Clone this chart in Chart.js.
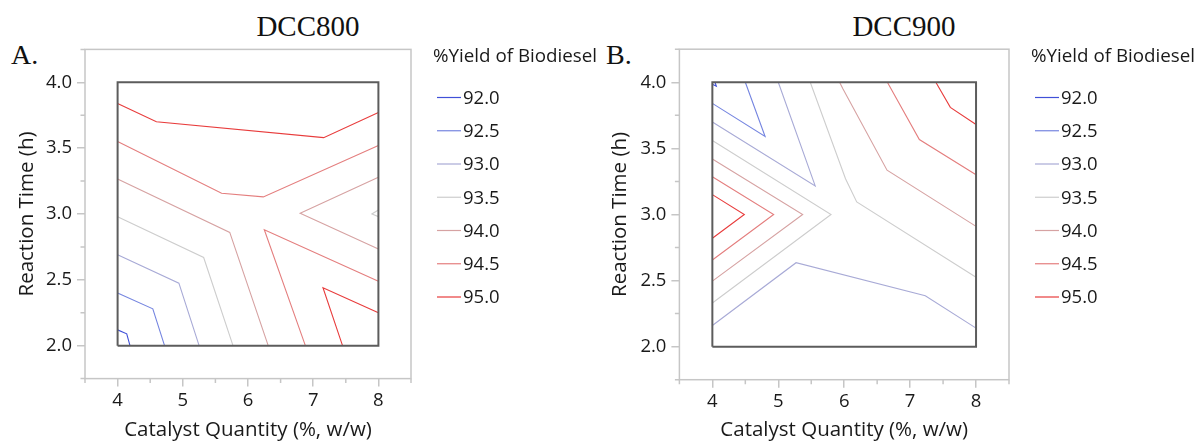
<!DOCTYPE html>
<html>
<head>
<meta charset="utf-8">
<script src="https://cdn.jsdelivr.net/npm/chart.js@4.4.1/dist/chart.umd.min.js"></script>
<style>
  html, body { margin: 0; padding: 0; background: #fff; }
  #wrap { position: relative; width: 1203px; height: 442px; overflow: hidden; }
  canvas { position: absolute; top: 0; }
  .ptitle, .tag { position: absolute; font-family: "Liberation Serif", serif; color: #111; line-height: 1; white-space: nowrap; }
  .ptitle { font-size: 29px; transform: translateX(-50%); }
  .tag { font-size: 28px; }
</style>
</head>
<body>
<div id="wrap">
  <div class="ptitle" style="left:308px;top:12px;">DCC800</div>
  <div class="tag" style="left:11px;top:41px;">A.</div>
  <div class="ptitle" style="left:904px;top:12px;">DCC900</div>
  <div class="tag" style="left:606px;top:41px;">B.</div>
  <canvas id="chartA" width="600" height="442" style="left:0"></canvas>
  <canvas id="chartB" width="603" height="442" style="left:600px"></canvas>
</div>
<script>
// niveaux des contours et couleurs
const levels = ['92.0', '92.5', '93.0', '93.5', '94.0', '94.5', '95.0'];
const levelColors = ['#4050d8', '#7585e0', '#a8aad6', '#cdcdcd', '#d6a2a2', '#e47e7e', '#e83c3c'];

const xMajor = [4, 5, 6, 7, 8];
const xMinor = [3.5, 4.5, 5.5, 6.5, 7.5, 8.5];
const yMajor = [2.0, 2.5, 3.0, 3.5, 4.0];
const yMinor = [1.75, 2.25, 2.75, 3.25, 3.75, 4.25];

// région expérimentale (cadre noir)
const designBox = [[4, 2], [8, 2], [8, 4], [4, 4], [4, 2]];

// DCC800 - segments de contour [x, y]
const a920 = [[[4.0, 2.12], [4.14, 2.09], [4.19, 2.0]]];
const a925 = [[[4.0, 2.40], [4.54, 2.28], [4.72, 2.0]]];
const a930 = [[[4.0, 2.69], [4.94, 2.475], [5.25, 2.0]]];
const a935 = [[[4.0, 2.98], [5.32, 2.67], [5.77, 2.0]], [[8.0, 3.03], [7.9, 3.0], [8.0, 2.98]]];
const a940 = [[[4.0, 3.265], [5.72, 2.86], [6.31, 2.0]], [[8.0, 3.28], [6.8, 3.005], [8.0, 2.735]]];
const a945 = [[[4.0, 3.55], [5.595, 3.157], [6.235, 3.13], [8.0, 3.52]], [[8.0, 2.49], [6.25, 2.88], [6.88, 2.0]]];
const a950 = [[[4.0, 3.84], [4.595, 3.70], [7.16, 3.58], [8.0, 3.77]], [[8.0, 2.25], [7.15, 2.44], [7.45, 2.0]]];

// DCC900
const b920 = [[[4.0, 3.985], [4.06, 3.97], [4.04, 4.0]]];
const b925 = [[[4.0, 3.84], [4.80, 3.59], [4.5, 4.0]]];
const b930 = [[[4.0, 3.70], [5.56, 3.216], [5.0, 4.0]], [[4.0, 2.16], [5.27, 2.635], [7.23, 2.385], [8.0, 2.14]]];
const b935 = [[[4.0, 3.56], [5.80, 3.0], [4.0, 2.33]], [[5.485, 4.0], [6.02, 3.27], [6.19, 3.095], [8.0, 2.525]]];
const b940 = [[[4.0, 3.42], [5.37, 3.0], [4.0, 2.496]], [[5.93, 4.0], [5.98, 3.95], [6.65, 3.335], [8.0, 2.91]]];
const b945 = [[[4.0, 3.285], [4.93, 3.0], [4.0, 2.655]], [[6.655, 4.0], [7.14, 3.567], [8.0, 3.30]]];
const b950 = [[[4.0, 3.15], [4.485, 3.0], [4.0, 2.82]], [[7.39, 4.0], [7.61, 3.81], [8.0, 3.68]]];

const legendTitle = '%Yield of Biodiesel';
const xTitle = 'Catalyst Quantity (%, w/w)';
const yTitle = 'Reaction Time (h)';

Chart.defaults.font.family = '"Open Sans", sans-serif';
Chart.defaults.font.size = 18.5;
Chart.defaults.color = '#1a1a1a';

// segments séparés par des points nuls
function toData(segments) {
    const out = [];
    segments.forEach((seg, i) => {
        if (i > 0) out.push({ x: null, y: null });
        seg.forEach(p => out.push({ x: p[0], y: p[1] }));
    });
    return out;
}

// cadre gris + petites graduations
const framePlugin = {
    id: 'frame',
    beforeDatasetsDraw(chart) {
        const { ctx, chartArea: a, scales } = chart;
        ctx.save();
        ctx.strokeStyle = '#c6c6c6';
        ctx.lineWidth = 1.5;
        ctx.strokeRect(a.left, a.top, a.right - a.left, a.bottom - a.top);
        ctx.beginPath();
        xMinor.forEach(v => {
            const px = scales.x.getPixelForValue(v);
            ctx.moveTo(px, a.bottom);
            ctx.lineTo(px, a.bottom + 4.5);
        });
        yMinor.forEach(v => {
            const py = scales.y.getPixelForValue(v);
            ctx.moveTo(a.left, py);
            ctx.lineTo(a.left - 4.5, py);
        });
        ctx.stroke();
        ctx.restore();
    }
};

// légende à droite
const legendPlugin = {
    id: 'contourLegend',
    afterDraw(chart) {
        const { ctx, chartArea } = chart;
        const x0 = chartArea.right + 22;
        ctx.save();
        ctx.font = '18.8px "Open Sans", sans-serif';
        ctx.fillStyle = '#1a1a1a';
        ctx.textBaseline = 'middle';
        ctx.fillText(legendTitle, x0, 57);
        ctx.font = '18.5px "Open Sans", sans-serif';
        let k = 0;
        chart.data.datasets.forEach(ds => {
            if (!ds.isLevel) return;
            const y = 97.5 + k * 33.25;
            ctx.strokeStyle = ds.borderColor;
            ctx.lineWidth = 1.2;
            ctx.beginPath();
            ctx.moveTo(x0 + 4, y);
            ctx.lineTo(x0 + 28, y);
            ctx.stroke();
            ctx.fillText(ds.label, x0 + 30, y + 1);
            k++;
        });
        ctx.restore();
    }
};

function makeChart(id, series, box) {
    const datasets = [{
        label: 'design',
        data: toData([designBox]),
        borderColor: '#5c5c5c',
        borderWidth: 2,
        borderJoinStyle: 'miter',
        pointRadius: 0,
        isLevel: false
    }];
    series.forEach((segs, i) => {
        datasets.push({
            label: levels[i],
            data: toData(segs),
            borderColor: levelColors[i],
            borderWidth: 1.1,
            pointRadius: 0,
            tension: 0,
            isLevel: true
        });
    });

    new Chart(document.getElementById(id).getContext('2d'), {
        type: 'line',
        data: { datasets: datasets },
        options: {
            responsive: false,
            animation: false,
            layout: { padding: { top: box.top, right: box.right, left: 0, bottom: 0 } },
            plugins: { legend: { display: false }, tooltip: { enabled: false } },
            scales: {
                x: {
                    type: 'linear',
                    min: 3.5,
                    max: 8.5,
                    afterBuildTicks: s => { s.ticks = xMajor.map(v => ({ value: v })); },
                    afterFit: s => { s.height = box.xh; },
                    ticks: { padding: 3, color: '#1a1a1a', callback: v => String(v) },
                    grid: { drawOnChartArea: false, tickLength: 8, color: '#c6c6c6', lineWidth: 1.5 },
                    border: { display: false },
                    title: { display: true, text: xTitle, color: '#1a1a1a', font: { size: 20.5 }, padding: { top: 0, bottom: 0 } }
                },
                y: {
                    min: 1.75,
                    max: 4.25,
                    afterBuildTicks: s => { s.ticks = yMajor.map(v => ({ value: v })); },
                    afterFit: s => { s.width = box.yw; },
                    ticks: { padding: 5, color: '#1a1a1a', callback: v => v.toFixed(1) },
                    grid: { drawOnChartArea: false, tickLength: 8, color: '#c6c6c6', lineWidth: 1.5 },
                    border: { display: false },
                    title: { display: true, text: yTitle, color: '#1a1a1a', font: { size: 20.5 }, padding: { top: box.yt, bottom: 0 } }
                }
            }
        },
        plugins: [framePlugin, legendPlugin]
    });
}

makeChart('chartA', [a920, a925, a930, a935, a940, a945, a950],
    { top: 49.4, right: 189, xh: 63.4, yw: 85, yt: 14.7 });
makeChart('chartB', [b920, b925, b930, b935, b940, b945, b950],
    { top: 49.2, right: 194, xh: 62.3, yw: 79.4, yt: 8.2 });
</script>
</body>
</html>
